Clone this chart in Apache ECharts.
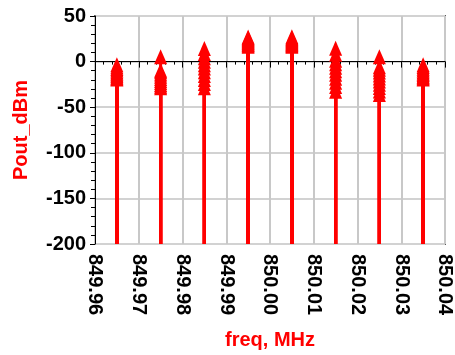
<!DOCTYPE html>
<html>
<head>
<meta charset="utf-8">
<script src="https://cdn.jsdelivr.net/npm/echarts@6/dist/echarts.min.js"></script>
<style>
  html, body { margin: 0; padding: 0; background: #ffffff; }
  #chart { width: 455px; height: 355px; }
</style>
</head>
<body>
<div id="chart"></div>
<script>
// Spectral tones (MHz) of the power sweep
const toneFreqs = [849.965, 849.975, 849.985, 849.995, 850.005, 850.015, 850.025, 850.035];

// Output power (dBm) at each tone, one value per sweep step
const pout_849965 = [-19.0, -18.2, -17.1, -15.6, -14.3, -12.8, -11.0, -9.2, -7.5, -5.6, -3.5];
const pout_849975 = [-28.6, -26.9, -25.1, -23.0, -20.8, -18.4, -16.0, -13.5, -11.0, -9.6, 5.2];
const pout_849985 = [-28.6, -24.0, -19.5, -15.2, -11.0, -7.1, -3.4, 0.3, 4.2, 9.0, 14.5];
const pout_849995 = [16.9, 17.8, 18.7, 19.6, 20.6, 21.5, 22.6, 23.7, 24.8, 26.0, 27.1];
const pout_850005 = [16.8, 17.7, 18.8, 19.7, 20.5, 21.6, 22.5, 23.8, 24.9, 25.9, 27.3];
const pout_850015 = [-32.4, -27.3, -22.6, -18.3, -14.0, -10.1, -6.2, -2.4, 1.6, 8.0, 14.6];
const pout_850025 = [-36.0, -32.1, -28.4, -24.9, -21.3, -18.0, -14.6, -11.5, -8.4, -5.7, 5.2];
const pout_850035 = [-19.0, -18.1, -17.0, -15.7, -14.2, -12.7, -11.1, -9.3, -7.4, -5.5, -3.5];

// Axis ticks
const xTicks = { min: 849.96, max: 850.04, step: 0.01 };
const yTicks = { min: -200, max: 50, step: 50 };

const poutByTone = [pout_849965, pout_849975, pout_849985, pout_849995,
                    pout_850005, pout_850015, pout_850025, pout_850035];

const points = [];
toneFreqs.forEach((f, i) => {
  poutByTone[i].forEach(v => points.push([f, v]));
});

const RED = '#ff0000';
const FONT = 'Liberation Sans, Arial, sans-serif';

const chart = echarts.init(document.getElementById('chart'), null, { renderer: 'canvas' });

chart.setOption({
  animation: false,
  backgroundColor: '#ffffff',
  grid: {
    left: 95, right: 10, top: 16, bottom: 110,
    show: true, borderColor: '#5c5c5c', borderWidth: 2, backgroundColor: '#ffffff'
  },
  xAxis: {
    type: 'value',
    min: xTicks.min, max: xTicks.max, interval: xTicks.step,
    name: 'freq, MHz',
    nameLocation: 'middle',
    nameGap: 86,
    nameTextStyle: { color: RED, fontSize: 20, fontWeight: 'bold', fontFamily: FONT },
    axisLine: { show: true, lineStyle: { color: '#000', width: 1 } },
    axisTick: { show: true, length: 6, lineStyle: { color: '#000', width: 1 } },
    minorTick: { show: true, splitNumber: 5, length: 3, lineStyle: { color: '#000', width: 1 } },
    splitLine: { show: true, lineStyle: { color: '#c8c8c8', width: 2 } },
    axisLabel: {
      rotate: -90, margin: 10,
      color: '#000', fontSize: 20, fontWeight: 'bold', fontFamily: FONT,
      formatter: v => v.toFixed(2)
    }
  },
  yAxis: {
    type: 'value',
    min: yTicks.min, max: yTicks.max, interval: yTicks.step,
    name: 'Pout_dBm',
    nameLocation: 'middle',
    nameGap: 64,
    nameRotate: 90,
    nameTextStyle: { color: RED, fontSize: 20, fontWeight: 'bold', fontFamily: FONT },
    axisLine: { show: true, lineStyle: { color: '#000', width: 1 } },
    axisTick: { show: true, length: 5, lineStyle: { color: '#000', width: 1 } },
    minorTick: { show: true, splitNumber: 5, length: 4, lineStyle: { color: '#000', width: 1 } },
    splitLine: { show: true, lineStyle: { color: '#d2d2d2', width: 2 } },
    axisLabel: { margin: 9, color: '#000', fontSize: 20, fontWeight: 'bold', fontFamily: FONT }
  },
  series: [
    {
      // stems from the bottom of the axis to each value
      type: 'custom',
      data: points,
      renderItem: (params, api) => {
        const f = api.value(0), v = api.value(1);
        const top = api.coord([f, v]);
        const base = api.coord([f, yTicks.min]);
        return {
          type: 'line',
          shape: { x1: top[0], y1: top[1], x2: base[0], y2: base[1] },
          style: { stroke: RED, lineWidth: 3 }
        };
      },
      z: 3
    },
    {
      type: 'scatter',
      data: points,
      symbol: 'triangle',
      symbolSize: [13, 15],
      itemStyle: { color: RED, opacity: 1 },
      z: 4
    }
  ]
});
</script>
</body>
</html>
